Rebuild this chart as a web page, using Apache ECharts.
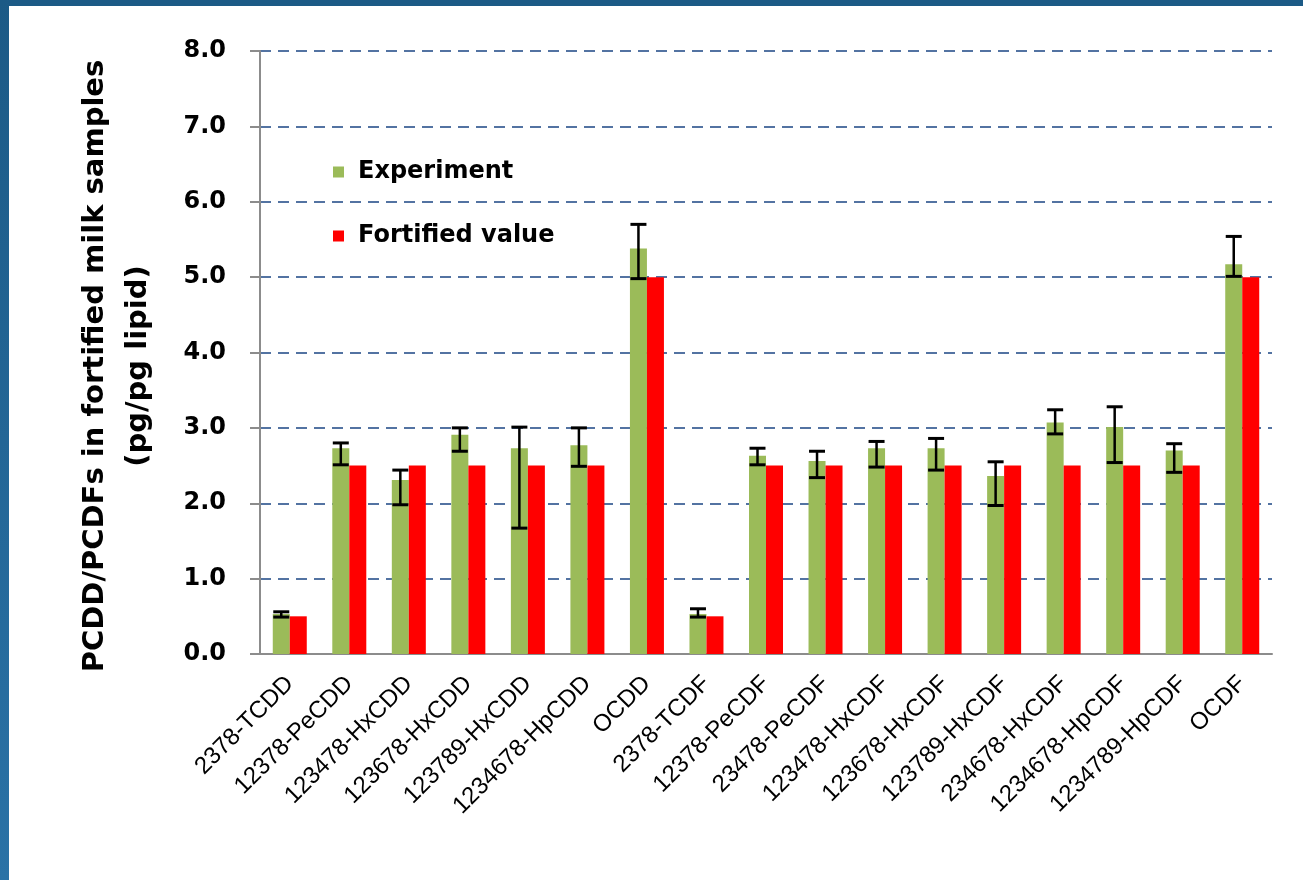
<!DOCTYPE html>
<html>
<head>
<meta charset="utf-8">
<script src="https://cdn.jsdelivr.net/npm/echarts@6/dist/echarts.min.js"></script>
<style>
  html, body { margin: 0; padding: 0; background: #ffffff; }
  #chart { position: absolute; left: 0; top: 0; width: 1303px; height: 880px; }
  .frame-top { position: absolute; left: 0; top: 0; width: 1303px; height: 6px; background: #1c5a86; }
  .frame-left { position: absolute; left: 0; top: 0; width: 9px; height: 880px;
                background: linear-gradient(to bottom, #1c5a86, #2a72a6); }
</style>
</head>
<body>
<div id="chart"></div>
<div class="frame-top"></div>
<div class="frame-left"></div>
<script>
// Congener names along the x axis
const categories = [
  '2378-TCDD', '12378-PeCDD', '123478-HxCDD', '123678-HxCDD', '123789-HxCDD',
  '1234678-HpCDD', 'OCDD', '2378-TCDF', '12378-PeCDF', '23478-PeCDF',
  '123478-HxCDF', '123678-HxCDF', '123789-HxCDF', '234678-HxCDF',
  '1234678-HpCDF', '1234789-HpCDF', 'OCDF'
];

// Measured concentrations (pg/pg lipid)
const experiment = [0.53, 2.73, 2.31, 2.91, 2.73, 2.77, 5.38, 0.53, 2.63, 2.56, 2.73, 2.73, 2.36, 3.07, 3.01, 2.70, 5.17];

// Spiked (fortified) concentrations
const fortified = [0.5, 2.5, 2.5, 2.5, 2.5, 2.5, 5.0, 0.5, 2.5, 2.5, 2.5, 2.5, 2.5, 2.5, 2.5, 2.5, 5.0];

// Error bar limits for the measured values
const errLow  = [0.49, 2.51, 1.98, 2.69, 1.67, 2.49, 4.98, 0.49, 2.51, 2.34, 2.48, 2.44, 1.97, 2.92, 2.54, 2.41, 5.01];
const errHigh = [0.56, 2.80, 2.44, 3.00, 3.01, 3.00, 5.70, 0.60, 2.73, 2.69, 2.82, 2.86, 2.55, 3.24, 3.28, 2.79, 5.54];

// Y axis ticks
const yTicks = [0, 1, 2, 3, 4, 5, 6, 7, 8];

const BAR_W = 17;
const errorData = categories.map((c, i) => [i, errLow[i], errHigh[i]]);

const chart = echarts.init(document.getElementById('chart'), null, { renderer: 'canvas' });

chart.setOption({
  animation: false,
  backgroundColor: '#ffffff',
  grid: { left: 260, right: 31, top: 51, bottom: 226, containLabel: false },
  legend: {
    orient: 'vertical',
    left: 333,
    top: 160,
    padding: 0,
    itemWidth: 11,
    itemHeight: 11,
    itemGap: 40,
    icon: 'rect',
    data: ['Experiment', 'Fortified value'],
    textStyle: {
      fontFamily: 'DejaVu Sans',
      fontWeight: 'bold',
      fontSize: 24,
      color: '#000000',
      padding: [0, 0, 0, 9]
    }
  },
  xAxis: {
    type: 'category',
    data: categories,
    axisLine: { show: true, lineStyle: { color: '#8c8c8c', width: 2 } },
    axisTick: { show: false },
    axisLabel: {
      interval: 0,
      rotate: 45,
      margin: 26,
      fontFamily: 'Liberation Sans',
      fontSize: 24,
      color: '#000000'
    }
  },
  yAxis: {
    type: 'value',
    min: yTicks[0],
    max: yTicks[yTicks.length - 1],
    interval: 1,
    axisLine: { show: true, lineStyle: { color: '#8c8c8c', width: 2 } },
    axisTick: { show: true, inside: false, length: 10, lineStyle: { color: '#8c8c8c', width: 2 } },
    axisLabel: {
      margin: 34,
      fontFamily: 'DejaVu Sans',
      fontWeight: 'bold',
      fontSize: 24,
      color: '#000000',
      formatter: v => v.toFixed(1)
    },
    splitLine: {
      show: true,
      lineStyle: { color: '#5373a2', width: 2, type: [11, 7] }
    }
  },
  graphic: [{
    type: 'text',
    x: 117,
    y: 366,
    rotation: Math.PI / 2,
    style: {
      text: 'PCDD/PCDFs in fortified milk samples\n(pg/pg lipid)',
      fontFamily: 'DejaVu Sans',
      fontWeight: 'bold',
      fontSize: 29,
      lineHeight: 43,
      fill: '#000000',
      align: 'center',
      verticalAlign: 'middle'
    }
  }],
  series: [
    {
      name: 'Experiment',
      type: 'bar',
      data: experiment,
      barWidth: BAR_W,
      barGap: '0%',
      itemStyle: { color: '#9bbb59' }
    },
    {
      name: 'Fortified value',
      type: 'bar',
      data: fortified,
      barWidth: BAR_W,
      barGap: '0%',
      itemStyle: { color: '#ff0000' }
    },
    {
      name: 'error',
      type: 'custom',
      z: 10,
      data: errorData,
      encode: { x: 0, y: [1, 2] },
      renderItem: function (params, api) {
        const idx = api.value(0);
        const lo = api.coord([idx, api.value(1)]);
        const hi = api.coord([idx, api.value(2)]);
        const x = lo[0] - BAR_W / 2;
        const cap = 8;
        const style = { stroke: '#000000', lineWidth: 2.5 };
        return {
          type: 'group',
          children: [
            { type: 'line', shape: { x1: x, y1: lo[1], x2: x, y2: hi[1] }, style: style },
            { type: 'line', shape: { x1: x - cap, y1: hi[1], x2: x + cap, y2: hi[1] }, style: { stroke: '#000000', lineWidth: 3 } },
            { type: 'line', shape: { x1: x - cap, y1: lo[1], x2: x + cap, y2: lo[1] }, style: { stroke: '#000000', lineWidth: 3 } }
          ]
        };
      }
    }
  ]
});
</script>
</body>
</html>
